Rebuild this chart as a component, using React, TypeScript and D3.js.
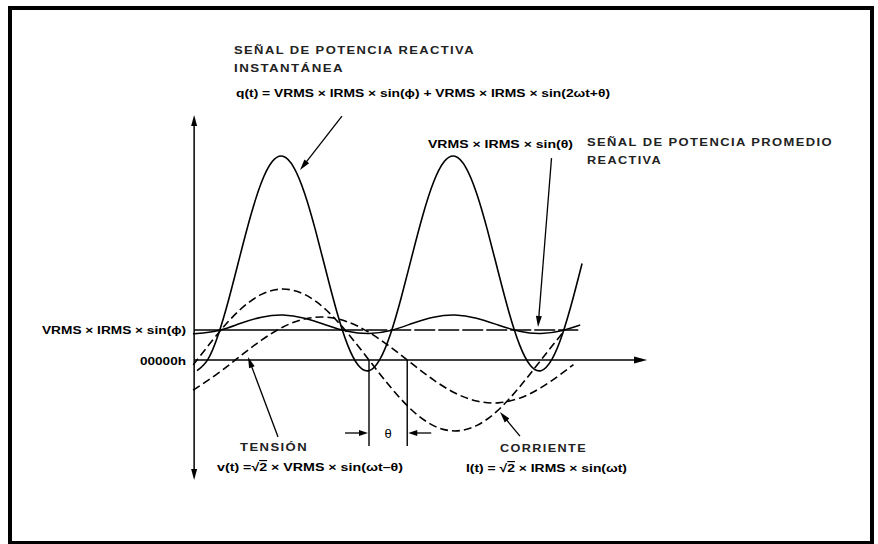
import React from "react";
import * as d3 from "d3";

// ---- data (x in degrees of ωt, y in arbitrary amplitude units; 0 = 00000h) ----
const currentDeg = [-3, 0, 22.5, 45, 67.5, 90, 112.5, 135, 157.5, 180, 202.5, 225, 247.5, 270, 292.5, 315, 337.5, 360, 385];
const currentVal = [-1.8, 0, 13.2, 24.5, 32.0, 34.6, 32.0, 24.5, 13.2, 0, -13.2, -24.5, -32.0, -34.6, -32.0, -24.5, -13.2, 0, 14.6];

const voltageDeg = [-3, 0, 22.5, 45, 67.5, 90, 112.5, 135, 157.5, 180, 202.5, 225, 247.5, 270, 292.5, 315, 337.5, 360, 382.5, 394];
const voltageVal = [-14.3, -13.5, -6.3, 1.8, 9.7, 16.1, 20.0, 20.9, 18.6, 13.5, 6.3, -1.8, -9.7, -16.1, -20.0, -20.9, -18.6, -13.5, -6.3, -2.2];

const powerDeg = [0, 11.25, 22.5, 33.75, 45, 56.25, 67.5, 78.75, 90, 101.25, 112.5, 123.75, 135, 146.25, 157.5, 168.75,
  180, 191.25, 202.5, 213.75, 225, 236.25, 247.5, 258.75, 270, 281.25, 292.5, 303.75, 315, 326.25, 337.5, 348.75,
  360, 371.25, 382.5, 393.75, 403];
const powerVal = [-5.2, 0.2, 12.7, 30.5, 50.8, 70.5, 86.7, 96.8, 99.4, 94.0, 81.5, 63.7, 43.4, 23.7, 7.5, -2.6,
  -5.2, 0.2, 12.7, 30.5, 50.8, 70.5, 86.7, 96.8, 99.4, 94.0, 81.5, 63.7, 43.4, 23.7, 7.5, -2.6,
  -5.2, 0.2, 12.7, 30.5, 47.1];

const avgDeg = [-3, 0, 22.5, 45, 67.5, 90, 112.5, 135, 157.5, 180, 202.5, 225, 247.5, 270, 292.5, 315, 337.5, 360, 382.5, 401];
const avgVal = [12.9, 12.9, 14.4, 17.8, 20.9, 22.0, 20.4, 17.1, 14.0, 12.9, 14.4, 17.8, 20.9, 22.0, 20.4, 17.1, 14.0, 12.9, 14.4, 17.1];

const reactiveLevel = 14.6;      // VRMS × IRMS × sin(ϕ)
const reactiveLevelSolidEnd = 152; // degrees, solid part
const reactiveLevelEnd = 399;    // degrees
const thetaMarks = [180, 220];   // zero crossings of current / voltage
const axisX = [-3, 471];         // x axis extent (degrees)
const axisY = [-58.5, 119.5];    // y axis extent (units)

// annotation arrows: [fromDeg, fromVal, tipDeg, tipVal]
const leaderArrows = [
  [151.7, 119.0, 107.8, 92.7],
  [371.0, 98.5, 356.9, 16.1],
  [84.8, -37.6, 53.4, 1.5],
  [338.0, -37.1, 317.1, -25.4],
];

const W = 878;
const H = 544;

const x = d3.scaleLinear().domain([0, 360]).range([197, 541]);
const y = d3.scaleLinear().domain([0, 100]).range([360, 155]);

function zip(a: number[], b: number[]): [number, number][] {
  return a.map((d, i) => [d, b[i]]);
}

const line = d3
  .line<[number, number]>()
  .x((d) => x(d[0]))
  .y((d) => y(d[1]))
  .curve(d3.curveNatural);

function headPath(tx: number, ty: number, fx: number, fy: number, len = 10, w = 6) {
  const a = Math.atan2(ty - fy, tx - fx);
  const bx = tx - len * Math.cos(a);
  const by = ty - len * Math.sin(a);
  const px = (-Math.sin(a) * w) / 2;
  const py = (Math.cos(a) * w) / 2;
  return `M${tx},${ty}L${bx + px},${by + py}L${bx - px},${by - py}Z`;
}

function Arrow({ fx, fy, tx, ty, len = 10, w = 6, sw = 1.3 }: any) {
  const a = Math.atan2(ty - fy, tx - fx);
  const bx = tx - (len - 1) * Math.cos(a);
  const by = ty - (len - 1) * Math.sin(a);
  return (
    <g>
      <line x1={fx} y1={fy} x2={bx} y2={by} stroke="#000" strokeWidth={sw} />
      <path d={headPath(tx, ty, fx, fy, len, w)} fill="#000" />
    </g>
  );
}

const font = "'Liberation Sans', Arial, Helvetica, sans-serif";

function T({ x: tx, y: ty, len, size = 11, adj = "spacingAndGlyphs", anchor = "start", weight = "bold", fill = "#000", ls = 0, children }: any) {
  return (
    <text
      x={tx}
      y={ty}
      fontFamily={font}
      fontWeight={weight}
      fontSize={size}
      textLength={len}
      lengthAdjust={adj}
      textAnchor={anchor}
      fill={fill}
      style={ls ? { letterSpacing: `${ls}px` } : undefined}
    >
      {children}
    </text>
  );
}

const ov = { textDecoration: "overline" } as any;

export default function App() {
  const ax0 = x(axisX[0]);
  const ax1 = x(axisX[1]);
  const y0 = y(0);
  const yTop = y(axisY[1]);
  const yBot = y(axisY[0]);
  const thetaY = 433;
  const yr = y(reactiveLevel);
  return (
    <svg
      width={W}
      height={H}
      viewBox={`0 0 ${W} ${H}`}
      style={{ position: "absolute", left: 0, top: 0, background: "#fff" }}
    >
      <rect x={0} y={0} width={W} height={H} fill="#fff" />
      {/* frame */}
      <rect x={10} y={8} width={862} height={535} fill="none" stroke="#000" strokeWidth={4} />

      {/* axes */}
      <line x1={ax0} y1={yTop + 8} x2={ax0} y2={yBot - 8} stroke="#000" strokeWidth={1.5} />
      <path d={headPath(ax0, yTop, ax0, yTop + 20, 11, 6)} fill="#000" />
      <path d={headPath(ax0, yBot, ax0, yBot - 20, 11, 6)} fill="#000" />
      <line x1={ax0} y1={y0} x2={ax1 - 10} y2={y0} stroke="#000" strokeWidth={1.5} />
      <path d={headPath(ax1, y0, ax1 - 20, y0, 13, 7)} fill="#000" />

      {/* reactive average level */}
      <line x1={ax0} y1={yr} x2={x(reactiveLevelSolidEnd)} y2={yr} stroke="#000" strokeWidth={1.5} />
      <line
        x1={x(reactiveLevelSolidEnd)}
        y1={yr}
        x2={x(reactiveLevelEnd)}
        y2={yr}
        stroke="#000"
        strokeWidth={1.5}
        strokeDasharray="21,3"
      />

      {/* curves */}
      <path d={line(zip(currentDeg, currentVal)) || ""} fill="none" stroke="#000" strokeWidth={1.6} strokeDasharray="8,4" />
      <path d={line(zip(voltageDeg, voltageVal)) || ""} fill="none" stroke="#000" strokeWidth={1.6} strokeDasharray="8,4" />
      <path d={line(zip(avgDeg, avgVal)) || ""} fill="none" stroke="#000" strokeWidth={1.5} />
      <path d={line(zip(powerDeg, powerVal)) || ""} fill="none" stroke="#000" strokeWidth={1.6} />

      {/* theta markers */}
      {thetaMarks.map((d, i) => (
        <line key={i} x1={x(d)} y1={y0} x2={x(d)} y2={446} stroke="#000" strokeWidth={1.4} />
      ))}
      <Arrow fx={x(thetaMarks[0]) - 24} fy={thetaY} tx={x(thetaMarks[0]) - 1} ty={thetaY} len={9} w={6} />
      <Arrow fx={x(thetaMarks[1]) + 24} fy={thetaY} tx={x(thetaMarks[1]) + 1} ty={thetaY} len={9} w={6} />
      <T x={(x(thetaMarks[0]) + x(thetaMarks[1])) / 2} y={438} size={13} weight="normal" anchor="middle">θ</T>

      {/* leader arrows */}
      {leaderArrows.map((a, i) => (
        <Arrow key={i} fx={x(a[0])} fy={y(a[1])} tx={x(a[2])} ty={y(a[3])} len={11} w={6} />
      ))}

      {/* texts */}
      <T x={234} y={54} len={241} size={11} ls={1.2} fill="#222">SEÑAL DE POTENCIA REACTIVA</T>
      <T x={234} y={72} len={110} size={11} ls={1.2} fill="#222">INSTANTÁNEA</T>
      <T x={236} y={97} len={374} size={11.5}>q(t) = VRMS × IRMS × sin(ϕ) + VRMS × IRMS × sin(2ωt+θ)</T>
      <T x={428} y={148} len={145} size={11.5}>VRMS × IRMS × sin(θ)</T>
      <T x={587} y={146} len={246} size={11} ls={1.2} fill="#222">SEÑAL DE POTENCIA PROMEDIO</T>
      <T x={587} y={164} len={75} size={11} ls={1.2} fill="#222">REACTIVA</T>
      <T x={42} y={334} len={144} size={11.5}>VRMS × IRMS × sin(ϕ)</T>
      <T x={140} y={364.5} len={46} size={11.5}>00000h</T>
      <T x={240} y={451} len={68} size={11} ls={1.2} fill="#222">TENSIÓN</T>
      <T x={217} y={471} len={186} size={11.5}>
        v(t) =√<tspan style={ov}>2</tspan> × VRMS × sin(ωt–θ)
      </T>
      <T x={500} y={452} len={87} size={11} ls={1.2} fill="#222">CORRIENTE</T>
      <T x={466} y={472} len={161} size={11.5}>
        I(t) = √<tspan style={ov}>2</tspan> × IRMS × sin(ωt)
      </T>
    </svg>
  );
}
